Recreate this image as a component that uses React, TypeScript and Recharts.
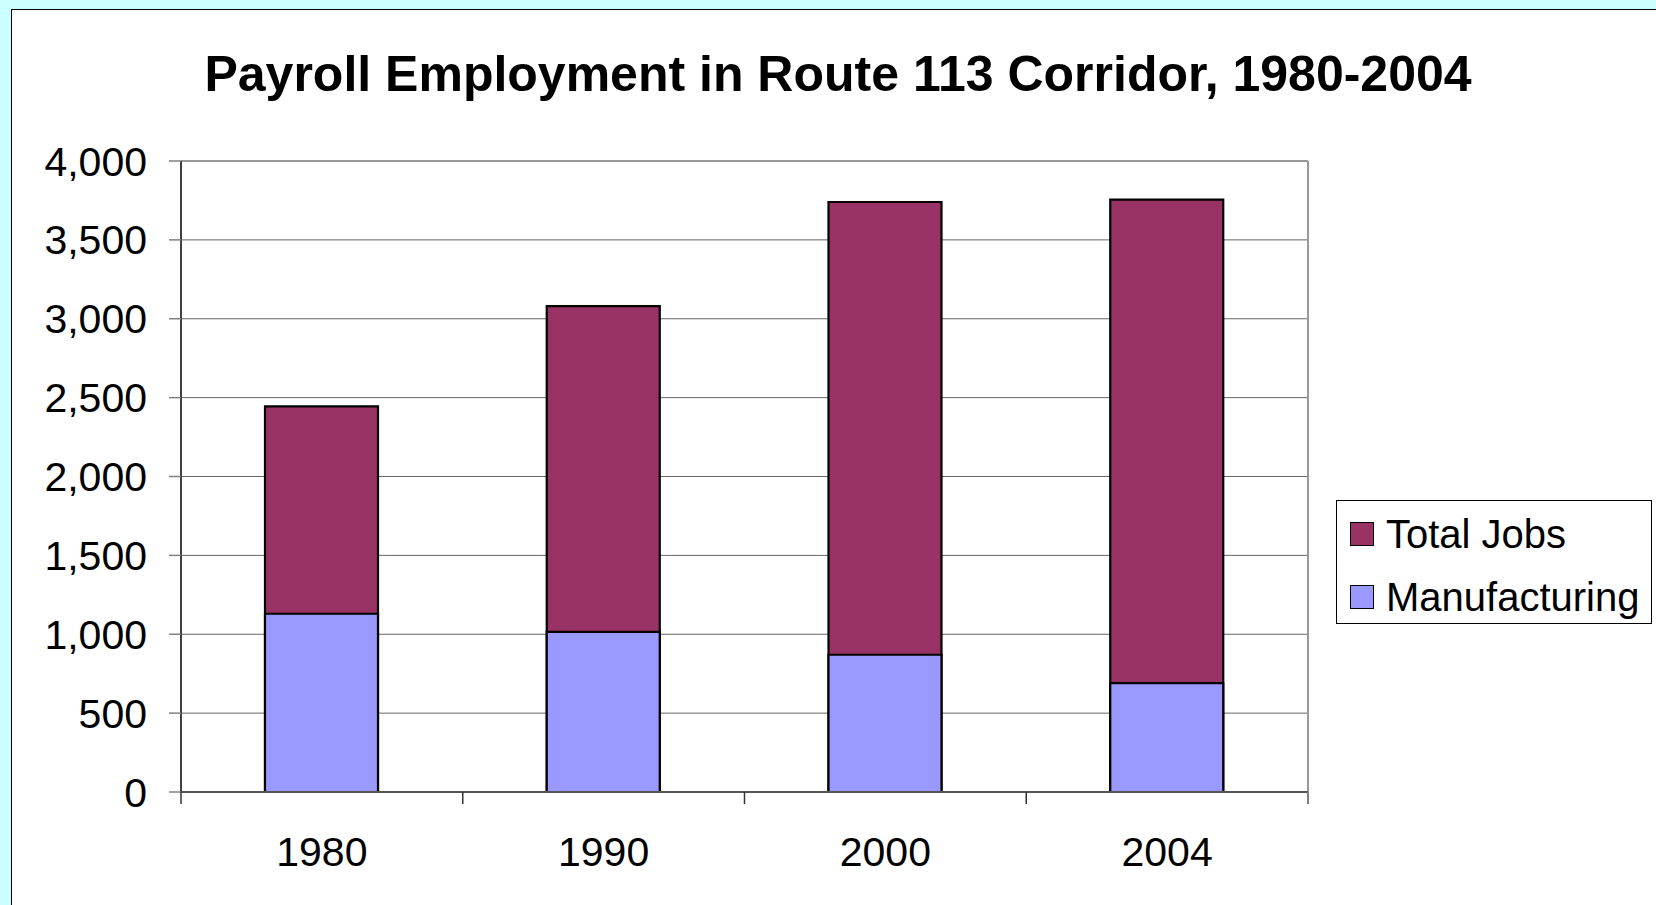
import React from 'react';
import { BarChart, Bar, XAxis, YAxis, CartesianGrid, Legend, ReferenceLine } from 'recharts';

const years = ['1980', '1990', '2000', '2004'];
const totalJobs = [2445, 3080, 3740, 3755];
const manufacturing = [1130, 1015, 870, 690];
const yTicks = [0, 500, 1000, 1500, 2000, 2500, 3000, 3500, 4000];
const seriesNames = ['Total Jobs', 'Manufacturing'];
const seriesColors = ['#993366', '#9999FF'];
const title = 'Payroll Employment in Route 113 Corridor, 1980-2004';

const data = years.map((year, i) => ({
  year,
  total: totalJobs[i],
  mfg: manufacturing[i],
}));

const FONT = '"Liberation Sans", Arial, Helvetica, sans-serif';
const X_TICK_SIZE = 12;
const X_TICK_MARGIN = 33;

const CategoryTick = (props: any) => {
  const { x, y, payload, index, visibleTicksCount } = props;
  const half = payload && typeof payload.offset === 'number' ? payload.offset : 0;
  const axisY = y - X_TICK_SIZE - X_TICK_MARGIN;
  const isLast = index === (visibleTicksCount ?? years.length) - 1;
  return (
    <g>
      <line x1={x - half} x2={x - half} y1={axisY} y2={axisY + X_TICK_SIZE} stroke="#333" strokeWidth={1.5} />
      {isLast && (
        <line x1={x + half} x2={x + half} y1={axisY} y2={axisY + X_TICK_SIZE} stroke="#808080" strokeWidth={2} />
      )}
      <text
        x={x}
        y={y}
        dy="0.71em"
        textAnchor="middle"
        fontSize={41}
        fontFamily={FONT}
        fill="#000"
      >
        {payload.value}
      </text>
    </g>
  );
};

const renderLegend = () => (
  <div
    style={{
      width: 316,
      height: 124,
      border: '1px solid #000',
      boxSizing: 'border-box',
      background: '#fff',
      position: 'relative',
      fontFamily: FONT,
    }}
  >
    {seriesNames.map((name, i) => (
      <div
        key={name}
        style={{
          position: 'absolute',
          left: 13,
          top: 13 + i * 62.5,
          height: 40,
          display: 'flex',
          alignItems: 'center',
          whiteSpace: 'nowrap',
        }}
      >
        <span
          style={{
            display: 'inline-block',
            width: 22,
            height: 22,
            background: seriesColors[i],
            border: '1.5px solid #000',
            marginRight: 12,
          }}
        />
        <span style={{ fontSize: 40, lineHeight: '40px', color: '#000' }}>{name}</span>
      </div>
    ))}
  </div>
);

export default function App() {
  return (
    <div
      style={{
        position: 'absolute',
        left: 0,
        top: 0,
        width: 1656,
        height: 905,
        background: '#CCFFFF',
        overflow: 'hidden',
      }}
    >
      <div
        style={{
          position: 'absolute',
          left: 11,
          top: 9,
          width: 1700,
          height: 1000,
          background: '#fff',
          borderTop: '1px solid #000',
          borderLeft: '1px solid #000',
        }}
      />
      <div style={{ position: 'absolute', left: 0, top: 0 }}>
        <BarChart
          width={1656}
          height={905}
          data={data}
          margin={{ top: 161, right: 348, bottom: 53, left: 0 }}
        >
          <CartesianGrid vertical={false} stroke="#666" strokeWidth={1} xAxisId="cat" />
          <XAxis
            xAxisId="cat"
            dataKey="year"
            height={60}
            tickLine={false}
            tickSize={X_TICK_SIZE}
            tickMargin={X_TICK_MARGIN}
            axisLine={{ stroke: '#555', strokeWidth: 2 }}
            tick={CategoryTick}
            interval={0}
          />
          <XAxis xAxisId="cat2" dataKey="year" hide height={0} />
          <YAxis
            width={181}
            domain={[0, 4000]}
            ticks={yTicks}
            interval={0}
            tickSize={12}
            tickMargin={22}
            tickLine={{ stroke: '#808080', strokeWidth: 1.5 }}
            axisLine={{ stroke: '#404040', strokeWidth: 2 }}
            tick={{ fontSize: 41, fill: '#000', fontFamily: FONT }}
            tickFormatter={(v: number) => v.toLocaleString('en-US')}
          />
          <ReferenceLine xAxisId="cat" y={4000} stroke="#999" strokeWidth={2} />
          <ReferenceLine xAxisId="cat" x={years[years.length - 1]} position="end" stroke="#999" strokeWidth={2} />
          <Bar
            xAxisId="cat"
            dataKey="total"
            name={seriesNames[0]}
            fill={seriesColors[0]}
            stroke="#000"
            strokeWidth={2.2}
            barSize={113}
            isAnimationActive={false}
          />
          <Bar
            xAxisId="cat2"
            dataKey="mfg"
            name={seriesNames[1]}
            fill={seriesColors[1]}
            stroke="#000"
            strokeWidth={2.2}
            barSize={113}
            isAnimationActive={false}
          />
          <Legend
            layout="vertical"
            align="center"
            verticalAlign="middle"
            content={renderLegend}
            wrapperStyle={{ left: 1336, top: 500, width: 316, height: 124 }}
          />
        </BarChart>
      </div>
      <div
        style={{
          position: 'absolute',
          left: 838,
          top: 49,
          transform: 'translateX(-50%)',
          whiteSpace: 'nowrap',
          fontFamily: FONT,
          fontWeight: 'bold',
          fontSize: 50,
          lineHeight: '50px',
          color: '#000',
        }}
      >
        {title}
      </div>
    </div>
  );
}
